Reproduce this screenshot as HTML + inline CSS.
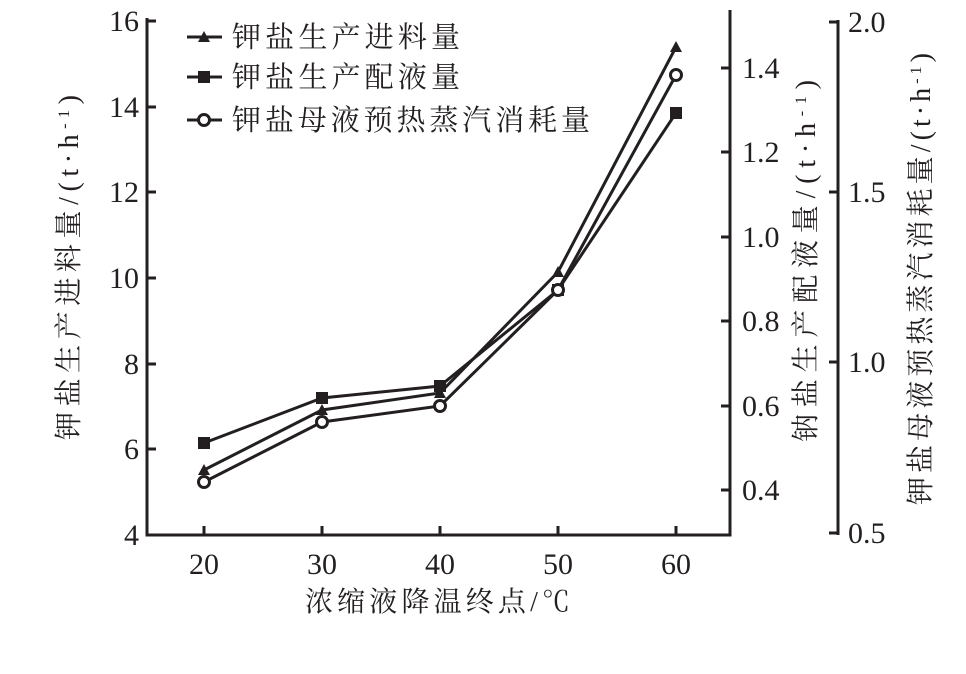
<!DOCTYPE html>
<html><head><meta charset="utf-8"><style>body{margin:0;background:#fff}</style></head><body>
<svg width="966" height="669" xmlns="http://www.w3.org/2000/svg" font-family="Liberation Serif, Noto Serif CJK SC, serif" fill="#231f20">
<g stroke="#231f20" stroke-width="3" fill="none">
<polyline points="147,18 147,535 730,535 730,10"/>
<line x1="838" y1="20" x2="838" y2="535"/>
<line x1="147" y1="21" x2="156" y2="21"/><line x1="147" y1="107" x2="156" y2="107"/><line x1="147" y1="192" x2="156" y2="192"/><line x1="147" y1="278" x2="156" y2="278"/><line x1="147" y1="364" x2="156" y2="364"/><line x1="147" y1="449" x2="156" y2="449"/>
<line x1="204" y1="535" x2="204" y2="526"/><line x1="322" y1="535" x2="322" y2="526"/><line x1="440" y1="535" x2="440" y2="526"/><line x1="558" y1="535" x2="558" y2="526"/><line x1="676" y1="535" x2="676" y2="526"/>
<line x1="730" y1="68" x2="721" y2="68"/><line x1="730" y1="152" x2="721" y2="152"/><line x1="730" y1="237" x2="721" y2="237"/><line x1="730" y1="321" x2="721" y2="321"/><line x1="730" y1="406" x2="721" y2="406"/><line x1="730" y1="490" x2="721" y2="490"/>
<line x1="838" y1="22" x2="829" y2="22"/><line x1="838" y1="192" x2="829" y2="192"/><line x1="838" y1="362" x2="829" y2="362"/><line x1="838" y1="533" x2="829" y2="533"/>
<polyline points="204,470 322,410 440,393 558,272 676,47"/>
<polyline points="204,443 322,398 440,386 558,290 676,113"/>
<polyline points="204,482 322,422 440,406 558,290 676,75"/>
<line x1="187" y1="37" x2="222" y2="37"/><line x1="187" y1="77" x2="222" y2="77"/><line x1="187" y1="120" x2="222" y2="120"/>
</g>
<g>
<path d="M204,464 l6,11 h-12z"/><path d="M322,404 l6,11 h-12z"/><path d="M440,387 l6,11 h-12z"/><path d="M558,266 l6,11 h-12z"/><path d="M676,41 l6,11 h-12z"/><path d="M204,31 l6,11 h-12z"/>
<rect x="198" y="437" width="12" height="12"/><rect x="316" y="392" width="12" height="12"/><rect x="434" y="380" width="12" height="12"/><rect x="552" y="284" width="12" height="12"/><rect x="670" y="107" width="12" height="12"/><rect x="198" y="71" width="12" height="12"/>
</g>
<g fill="#fff" stroke="#231f20" stroke-width="3">
<circle cx="204" cy="482" r="5.5"/><circle cx="322" cy="422" r="5.5"/><circle cx="440" cy="406" r="5.5"/><circle cx="558" cy="290" r="5.5"/><circle cx="676" cy="75" r="5.5"/><circle cx="204" cy="120" r="5.5"/>
</g>
<g font-size="29">
<text x="232" y="47" textLength="228" lengthAdjust="spacing">钾盐生产进料量</text><text x="232" y="87" textLength="228" lengthAdjust="spacing">钾盐生产配液量</text><text x="232" y="130" textLength="358" lengthAdjust="spacing">钾盐母液预热蒸汽消耗量</text>
</g>
<g font-size="30" text-anchor="end">
<text x="139" y="31">16</text><text x="139" y="117">14</text><text x="139" y="202">12</text><text x="139" y="288">10</text><text x="139" y="374">8</text><text x="139" y="459">6</text><text x="139" y="545">4</text>
</g>
<g font-size="30" text-anchor="middle">
<text x="204" y="574">20</text><text x="322" y="574">30</text><text x="440" y="574">40</text><text x="558" y="574">50</text><text x="676" y="574">60</text>
</g>
<text x="305" y="611" font-size="28" textLength="265" lengthAdjust="spacing">浓缩液降温终点/℃</text>
<g font-size="30">
<text x="742" y="78">1.4</text><text x="742" y="162">1.2</text><text x="742" y="247">1.0</text><text x="742" y="331">0.8</text><text x="742" y="416">0.6</text><text x="742" y="500">0.4</text>
<text x="848" y="32">2.0</text><text x="848" y="202">1.5</text><text x="848" y="372">1.0</text><text x="848" y="543">0.5</text>
</g>
<g font-size="28">
<text transform="translate(78,440) rotate(-90)" textLength="345" lengthAdjust="spacing">钾盐生产进料量/(t·h<tspan dy="-9" font-size="16">-1</tspan><tspan dy="9">)</tspan></text>
<text transform="translate(815,442) rotate(-90)" textLength="362" lengthAdjust="spacing">钠盐生产配液量/(t·h<tspan dy="-9" font-size="16">-1</tspan><tspan dy="9">)</tspan></text>
<text transform="translate(930,505) rotate(-90)" textLength="452" lengthAdjust="spacing">钾盐母液预热蒸汽消耗量/(t·h<tspan dy="-9" font-size="16">-1</tspan><tspan dy="9">)</tspan></text>
</g>
</svg>
</body></html>
